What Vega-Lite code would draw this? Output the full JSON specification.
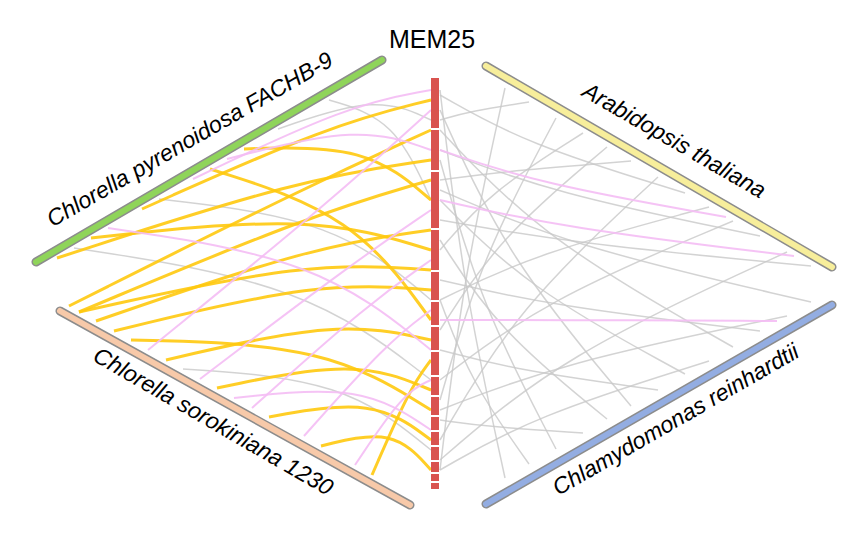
{
  "$schema": "https://vega.github.io/schema/vega-lite/v6.json",
  "width": 863,
  "height": 550,
  "autosize": {"type": "fit", "contains": "padding"},
  "padding": 0,
  "background": "white",
  "config": {"view": {"stroke": null}},
  "datasets": {
    "links": [
      {"id":"r1","c":"g","o":0,"x":440,"y":470},{"id":"r1","c":"g","o":1,"x":463,"y":279},{"id":"r1","c":"g","o":2,"x":505,"y":88},
      {"id":"r2","c":"g","o":0,"x":440,"y":120},{"id":"r2","c":"g","o":1,"x":471,"y":111},{"id":"r2","c":"g","o":2,"x":529,"y":102},
      {"id":"r3","c":"g","o":0,"x":440,"y":400},{"id":"r3","c":"g","o":1,"x":481,"y":259},{"id":"r3","c":"g","o":2,"x":556,"y":118},
      {"id":"r4","c":"g","o":0,"x":440,"y":250},{"id":"r4","c":"g","o":1,"x":490,"y":192},{"id":"r4","c":"g","o":2,"x":583,"y":133},
      {"id":"r5","c":"g","o":0,"x":440,"y":330},{"id":"r5","c":"g","o":1,"x":498,"y":239},{"id":"r5","c":"g","o":2,"x":607,"y":147},
      {"id":"r6","c":"g","o":0,"x":440,"y":180},{"id":"r6","c":"g","o":1,"x":507,"y":171},{"id":"r6","c":"g","o":2,"x":631,"y":161},
      {"id":"r7","c":"g","o":0,"x":440,"y":440},{"id":"r7","c":"g","o":1,"x":516,"y":309},{"id":"r7","c":"g","o":2,"x":658,"y":177},
      {"id":"r8","c":"g","o":0,"x":440,"y":95},{"id":"r8","c":"g","o":1,"x":526,"y":144},{"id":"r8","c":"g","o":2,"x":685,"y":193},
      {"id":"r9","c":"g","o":0,"x":440,"y":300},{"id":"r9","c":"g","o":1,"x":534,"y":254},{"id":"r9","c":"g","o":2,"x":709,"y":207},
      {"id":"r10","c":"g","o":0,"x":440,"y":380},{"id":"r10","c":"g","o":1,"x":543,"y":301},{"id":"r10","c":"g","o":2,"x":733,"y":221},
      {"id":"r11","c":"g","o":0,"x":440,"y":150},{"id":"r11","c":"g","o":1,"x":552,"y":193},{"id":"r11","c":"g","o":2,"x":760,"y":236},
      {"id":"r12","c":"g","o":0,"x":440,"y":460},{"id":"r12","c":"g","o":1,"x":561,"y":356},{"id":"r12","c":"g","o":2,"x":787,"y":252},
      {"id":"r13","c":"g","o":0,"x":440,"y":220},{"id":"r13","c":"g","o":1,"x":570,"y":243},{"id":"r13","c":"g","o":2,"x":811,"y":266},
      {"id":"b1","c":"g","o":0,"x":440,"y":90},{"id":"b1","c":"g","o":1,"x":463,"y":284},{"id":"b1","c":"g","o":2,"x":505,"y":478},
      {"id":"b2","c":"g","o":0,"x":440,"y":300},{"id":"b2","c":"g","o":1,"x":471,"y":382},{"id":"b2","c":"g","o":2,"x":529,"y":464},
      {"id":"b3","c":"g","o":0,"x":440,"y":160},{"id":"b3","c":"g","o":1,"x":481,"y":305},{"id":"b3","c":"g","o":2,"x":556,"y":449},
      {"id":"b4","c":"g","o":0,"x":440,"y":420},{"id":"b4","c":"g","o":1,"x":490,"y":427},{"id":"b4","c":"g","o":2,"x":583,"y":433},
      {"id":"b5","c":"g","o":0,"x":440,"y":240},{"id":"b5","c":"g","o":1,"x":498,"y":330},{"id":"b5","c":"g","o":2,"x":607,"y":419},
      {"id":"b6","c":"g","o":0,"x":440,"y":110},{"id":"b6","c":"g","o":1,"x":507,"y":258},{"id":"b6","c":"g","o":2,"x":631,"y":406},
      {"id":"b7","c":"g","o":0,"x":440,"y":350},{"id":"b7","c":"g","o":1,"x":516,"y":370},{"id":"b7","c":"g","o":2,"x":658,"y":390},
      {"id":"b8","c":"g","o":0,"x":440,"y":200},{"id":"b8","c":"g","o":1,"x":526,"y":287},{"id":"b8","c":"g","o":2,"x":685,"y":374},
      {"id":"b9","c":"g","o":0,"x":440,"y":470},{"id":"b9","c":"g","o":1,"x":534,"y":416},{"id":"b9","c":"g","o":2,"x":709,"y":361},
      {"id":"b10","c":"g","o":0,"x":440,"y":130},{"id":"b10","c":"g","o":1,"x":543,"y":239},{"id":"b10","c":"g","o":2,"x":733,"y":347},
      {"id":"b11","c":"g","o":0,"x":440,"y":280},{"id":"b11","c":"g","o":1,"x":552,"y":306},{"id":"b11","c":"g","o":2,"x":760,"y":331},
      {"id":"b12","c":"g","o":0,"x":440,"y":410},{"id":"b12","c":"g","o":1,"x":561,"y":363},{"id":"b12","c":"g","o":2,"x":787,"y":316},
      {"id":"b13","c":"g","o":0,"x":440,"y":190},{"id":"b13","c":"g","o":1,"x":570,"y":246},{"id":"b13","c":"g","o":2,"x":811,"y":302},
      {"id":"lg1","c":"g","o":0,"x":431,"y":120},{"id":"lg1","c":"g","o":1,"x":377,"y":95},{"id":"lg1","c":"g","o":2,"x":278,"y":129},
      {"id":"lg2","c":"g","o":0,"x":431,"y":300},{"id":"lg2","c":"g","o":1,"x":336,"y":220},{"id":"lg2","c":"g","o":2,"x":159,"y":199},
      {"id":"lg3","c":"g","o":0,"x":431,"y":450},{"id":"lg3","c":"g","o":1,"x":344,"y":380},{"id":"lg3","c":"g","o":2,"x":183,"y":369},
      {"id":"lg4","c":"g","o":0,"x":431,"y":200},{"id":"lg4","c":"g","o":1,"x":395,"y":120},{"id":"lg4","c":"g","o":2,"x":329,"y":100},
      {"id":"lg5","c":"g","o":0,"x":431,"y":380},{"id":"lg5","c":"g","o":1,"x":306,"y":284},{"id":"lg5","c":"g","o":2,"x":74,"y":248},
      {"id":"y1","c":"y","o":0,"x":431,"y":130},{"id":"y1","c":"y","o":1,"x":304,"y":188},{"id":"y1","c":"y","o":2,"x":69,"y":306},
      {"id":"y2","c":"y","o":0,"x":431,"y":180},{"id":"y2","c":"y","o":1,"x":308,"y":216},{"id":"y2","c":"y","o":2,"x":79,"y":312},
      {"id":"y3","c":"y","o":0,"x":431,"y":230},{"id":"y3","c":"y","o":1,"x":314,"y":246},{"id":"y3","c":"y","o":2,"x":96,"y":321},
      {"id":"y4","c":"y","o":0,"x":431,"y":290},{"id":"y4","c":"y","o":1,"x":320,"y":281},{"id":"y4","c":"y","o":2,"x":114,"y":331},
      {"id":"y5","c":"y","o":0,"x":431,"y":340},{"id":"y5","c":"y","o":1,"x":338,"y":320},{"id":"y5","c":"y","o":2,"x":166,"y":360},
      {"id":"y6","c":"y","o":0,"x":431,"y":390},{"id":"y6","c":"y","o":1,"x":356,"y":359},{"id":"y6","c":"y","o":2,"x":217,"y":388},
      {"id":"y7","c":"y","o":0,"x":431,"y":440},{"id":"y7","c":"y","o":1,"x":374,"y":398},{"id":"y7","c":"y","o":2,"x":269,"y":417},
      {"id":"y8","c":"y","o":0,"x":431,"y":470},{"id":"y8","c":"y","o":1,"x":393,"y":428},{"id":"y8","c":"y","o":2,"x":321,"y":446},
      {"id":"y9","c":"y","o":0,"x":431,"y":100},{"id":"y9","c":"y","o":1,"x":330,"y":125},{"id":"y9","c":"y","o":2,"x":142,"y":209},
      {"id":"y10","c":"y","o":0,"x":431,"y":160},{"id":"y10","c":"y","o":1,"x":300,"y":179},{"id":"y10","c":"y","o":2,"x":57,"y":258},
      {"id":"y11","c":"y","o":0,"x":431,"y":250},{"id":"y11","c":"y","o":1,"x":312,"y":214},{"id":"y11","c":"y","o":2,"x":91,"y":238},
      {"id":"y12","c":"y","o":0,"x":431,"y":320},{"id":"y12","c":"y","o":1,"x":354,"y":215},{"id":"y12","c":"y","o":2,"x":210,"y":169},
      {"id":"y13","c":"y","o":0,"x":431,"y":410},{"id":"y13","c":"y","o":1,"x":326,"y":345},{"id":"y13","c":"y","o":2,"x":131,"y":340},
      {"id":"y14","c":"y","o":0,"x":431,"y":200},{"id":"y14","c":"y","o":1,"x":366,"y":145},{"id":"y14","c":"y","o":2,"x":244,"y":149},
      {"id":"y15","c":"y","o":0,"x":431,"y":270},{"id":"y15","c":"y","o":1,"x":308,"y":261},{"id":"y15","c":"y","o":2,"x":79,"y":312},
      {"id":"y16","c":"y","o":0,"x":431,"y":360},{"id":"y16","c":"y","o":1,"x":410,"y":388},{"id":"y16","c":"y","o":2,"x":372,"y":475},
      {"id":"p1","c":"p","o":0,"x":431,"y":110},{"id":"p1","c":"p","o":1,"x":332,"y":200},{"id":"p1","c":"p","o":2,"x":148,"y":350},
      {"id":"p2","c":"p","o":0,"x":431,"y":210},{"id":"p2","c":"p","o":1,"x":350,"y":265},{"id":"p2","c":"p","o":2,"x":200,"y":379},
      {"id":"p3","c":"p","o":0,"x":431,"y":260},{"id":"p3","c":"p","o":1,"x":368,"y":304},{"id":"p3","c":"p","o":2,"x":252,"y":408},
      {"id":"p4","c":"p","o":0,"x":431,"y":310},{"id":"p4","c":"p","o":1,"x":387,"y":343},{"id":"p4","c":"p","o":2,"x":304,"y":436},
      {"id":"p5","c":"p","o":0,"x":431,"y":380},{"id":"p5","c":"p","o":1,"x":404,"y":392},{"id":"p5","c":"p","o":2,"x":355,"y":465},
      {"id":"p6","c":"p","o":0,"x":431,"y":150},{"id":"p6","c":"p","o":1,"x":360,"y":125},{"id":"p6","c":"p","o":2,"x":227,"y":159},
      {"id":"p7","c":"p","o":0,"x":431,"y":350},{"id":"p7","c":"p","o":1,"x":318,"y":259},{"id":"p7","c":"p","o":2,"x":108,"y":228},
      {"id":"p8","c":"p","o":0,"x":431,"y":430},{"id":"p8","c":"p","o":1,"x":362,"y":384},{"id":"p8","c":"p","o":2,"x":234,"y":398},
      {"id":"p9","c":"p","o":0,"x":431,"y":90},{"id":"p9","c":"p","o":1,"x":348,"y":105},{"id":"p9","c":"p","o":2,"x":193,"y":179},
      {"id":"pr1","c":"p","o":0,"x":440,"y":200},{"id":"pr1","c":"p","o":1,"x":564,"y":228},{"id":"pr1","c":"p","o":2,"x":794,"y":256},
      {"id":"pr2","c":"p","o":0,"x":440,"y":320},{"id":"pr2","c":"p","o":1,"x":558,"y":320},{"id":"pr2","c":"p","o":2,"x":777,"y":321},
      {"id":"pr3","c":"p","o":0,"x":440,"y":150},{"id":"pr3","c":"p","o":1,"x":540,"y":184},{"id":"pr3","c":"p","o":2,"x":726,"y":217}
    ],
    "segments": [
      {"y":78,"y2":128},{"y":130,"y2":170},{"y":172,"y2":228},{"y":230,"y2":270},{"y":272,"y2":300},
      {"y":302,"y2":325},{"y":327,"y2":350},{"y":352,"y2":375},{"y":377,"y2":395},{"y":397,"y2":415},
      {"y":417,"y2":430},{"y":432,"y2":445},{"y":447,"y2":460},{"y":462,"y2":472},{"y":474,"y2":481},{"y":483,"y2":489}
    ],
    "bars": [
      {"name":"cp","x":36,"y":262,"x2":382,"y2":60,"col":"#8FD45A"},
      {"name":"cs","x":60,"y":311,"x2":410,"y2":505,"col":"#F7C9A9"},
      {"name":"at","x":486,"y":66,"x2":832,"y2":267,"col":"#F7EE9B"},
      {"name":"cr","x":486,"y":504,"x2":832,"y2":305,"col":"#93ADE2"}
    ],
    "labels": [
      {"t":"Chlorella pyrenoidosa FACHB-9","x":190,"y":140,"a":330},
      {"t":"Arabidopsis thaliana","x":674,"y":141,"a":30},
      {"t":"Chlorella sorokiniana 1230","x":213,"y":422,"a":30},
      {"t":"Chlamydomonas reinhardtii","x":676,"y":420,"a":330}
    ]
  },
  "layer": [
    {
      "data": {"name": "links"},
      "transform": [{"filter": "datum.c == 'g'"}],
      "mark": {"type": "line", "interpolate": "basis", "stroke": "#C8C8C8", "strokeWidth": 1.5, "opacity": 0.8},
      "encoding": {
        "x": {"field": "x", "type": "quantitative", "scale": {"domain": [0, 863], "nice": false, "zero": false}, "axis": null},
        "y": {"field": "y", "type": "quantitative", "scale": {"domain": [0, 550], "nice": false, "zero": false, "reverse": true}, "axis": null},
        "detail": {"field": "id"},
        "order": {"field": "o"}
      }
    },
    {
      "data": {"name": "links"},
      "transform": [{"filter": "datum.c == 'y'"}],
      "mark": {"type": "line", "interpolate": "basis", "stroke": "#FFC90E", "strokeWidth": 3, "opacity": 0.9},
      "encoding": {
        "x": {"field": "x", "type": "quantitative"},
        "y": {"field": "y", "type": "quantitative"},
        "detail": {"field": "id"},
        "order": {"field": "o"}
      }
    },
    {
      "data": {"name": "links"},
      "transform": [{"filter": "datum.c == 'p'"}],
      "mark": {"type": "line", "interpolate": "basis", "stroke": "#F4BDF4", "strokeWidth": 2, "opacity": 0.9},
      "encoding": {
        "x": {"field": "x", "type": "quantitative"},
        "y": {"field": "y", "type": "quantitative"},
        "detail": {"field": "id"},
        "order": {"field": "o"}
      }
    },
    {
      "data": {"name": "segments"},
      "mark": {"type": "rect", "color": "#D9534F"},
      "encoding": {
        "x": {"datum": 431, "type": "quantitative"},
        "x2": {"datum": 439},
        "y": {"field": "y", "type": "quantitative"},
        "y2": {"field": "y2"}
      }
    },
    {
      "data": {"name": "bars"},
      "mark": {"type": "rule", "stroke": "#8C8C8C", "strokeWidth": 9, "strokeCap": "round"},
      "encoding": {
        "x": {"field": "x", "type": "quantitative"},
        "y": {"field": "y", "type": "quantitative"},
        "x2": {"field": "x2"},
        "y2": {"field": "y2"}
      }
    },
    {
      "data": {"name": "bars"},
      "mark": {"type": "rule", "strokeWidth": 6, "strokeCap": "round"},
      "encoding": {
        "x": {"field": "x", "type": "quantitative"},
        "y": {"field": "y", "type": "quantitative"},
        "x2": {"field": "x2"},
        "y2": {"field": "y2"},
        "color": {"field": "col", "type": "nominal", "scale": null, "legend": null}
      }
    },
    {
      "data": {"name": "labels"},
      "mark": {"type": "text", "font": "Liberation Sans", "fontStyle": "italic", "fontSize": 23, "color": "black", "align": "center", "baseline": "middle"},
      "encoding": {
        "x": {"field": "x", "type": "quantitative"},
        "y": {"field": "y", "type": "quantitative"},
        "text": {"field": "t"},
        "angle": {"field": "a", "type": "quantitative", "scale": null}
      }
    },
    {
      "data": {"values": [{"t": "MEM25", "x": 432, "y": 40}]},
      "mark": {"type": "text", "font": "Liberation Sans", "fontSize": 25, "color": "black", "align": "center", "baseline": "middle"},
      "encoding": {
        "x": {"field": "x", "type": "quantitative"},
        "y": {"field": "y", "type": "quantitative"},
        "text": {"field": "t"}
      }
    }
  ]
}
